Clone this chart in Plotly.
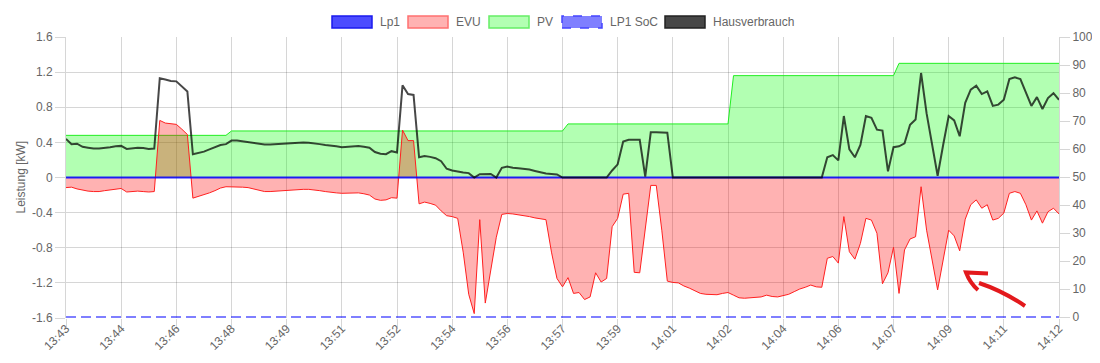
import plotly.graph_objects as go

# ---------------- data ----------------
time_labels = ["13:43", "13:44", "13:46", "13:48", "13:49", "13:51", "13:52", "13:54",
               "13:56", "13:57", "13:59", "14:01", "14:02", "14:04", "14:06", "14:07",
               "14:09", "14:11", "14:12"]

hausverbrauch = [
    0.44, 0.38, 0.385, 0.35, 0.34, 0.33, 0.33, 0.335, 0.345, 0.355,
    0.36, 0.325, 0.33, 0.34, 0.335, 0.325, 0.33, 1.13, 1.115, 1.10,
    1.095, 1.04, 0.98, 0.265, 0.28, 0.295, 0.32, 0.345, 0.37, 0.38,
    0.42, 0.42, 0.41, 0.40, 0.39, 0.38, 0.375, 0.375, 0.38, 0.385,
    0.39, 0.395, 0.395, 0.40, 0.395, 0.39, 0.38, 0.37, 0.365, 0.355,
    0.345, 0.35, 0.355, 0.36, 0.35, 0.34, 0.29, 0.27, 0.265, 0.30,
    0.285, 1.05, 0.95, 0.94, 0.23, 0.245, 0.235, 0.22, 0.185, 0.10,
    0.08, 0.065, 0.058, 0.05, 0.0, 0.038, 0.042, 0.04, 0.0, 0.11,
    0.125, 0.11, 0.105, 0.10, 0.09, 0.075, 0.06, 0.045, 0.04, 0.035,
    0.0, 0.0, 0.0, 0.0, 0.0, 0.0, 0.0, 0.0, 0.0, 0.08,
    0.15, 0.41, 0.43, 0.43, 0.43, 0.01, 0.515, 0.515, 0.515, 0.51,
    0.0, 0.0, 0.0, 0.0, 0.0, 0.0, 0.0, 0.0, 0.0, 0.0,
    0.0, 0.0, 0.0, 0.0, 0.0, 0.0, 0.0, 0.0, 0.0, 0.0,
    0.0, 0.0, 0.0, 0.0, 0.0, 0.0, 0.0, 0.0, 0.23, 0.255,
    0.195, 0.70, 0.32, 0.23, 0.37, 0.70, 0.68, 0.545, 0.535, 0.07,
    0.345, 0.355, 0.39, 0.60, 0.66, 1.19, 0.73, 0.39, 0.02, 0.37,
    0.70, 0.65, 0.47, 0.85, 1.0, 1.045, 0.95, 0.98, 0.815, 0.83,
    0.885, 1.12, 1.14, 1.12, 0.96, 0.815, 0.915, 0.78, 0.905, 0.96,
    0.885,
]

pv = [
    0.48, 0.48, 0.48, 0.48, 0.48, 0.48, 0.48, 0.48, 0.48, 0.48,
    0.48, 0.48, 0.48, 0.48, 0.48, 0.48, 0.48, 0.48, 0.48, 0.48,
    0.48, 0.48, 0.48, 0.48, 0.48, 0.48, 0.48, 0.48, 0.48, 0.48,
    0.53, 0.53, 0.53, 0.53, 0.53, 0.53, 0.53, 0.53, 0.53, 0.53,
    0.53, 0.53, 0.53, 0.53, 0.53, 0.53, 0.53, 0.53, 0.53, 0.53,
    0.53, 0.53, 0.53, 0.53, 0.53, 0.53, 0.53, 0.53, 0.53, 0.53,
    0.53, 0.53, 0.53, 0.53, 0.53, 0.53, 0.53, 0.53, 0.53, 0.53,
    0.53, 0.53, 0.53, 0.53, 0.53, 0.53, 0.53, 0.53, 0.53, 0.53,
    0.53, 0.53, 0.53, 0.53, 0.53, 0.53, 0.53, 0.53, 0.53, 0.53,
    0.53, 0.61, 0.61, 0.61, 0.61, 0.61, 0.61, 0.61, 0.61, 0.61,
    0.61, 0.61, 0.61, 0.61, 0.61, 0.61, 0.61, 0.61, 0.61, 0.61,
    0.61, 0.61, 0.61, 0.61, 0.61, 0.61, 0.61, 0.61, 0.61, 0.61,
    0.61, 1.16, 1.16, 1.16, 1.16, 1.16, 1.16, 1.16, 1.16, 1.16,
    1.16, 1.16, 1.16, 1.16, 1.16, 1.16, 1.16, 1.16, 1.16, 1.16,
    1.16, 1.16, 1.16, 1.16, 1.16, 1.16, 1.16, 1.16, 1.16, 1.16,
    1.16, 1.30, 1.30, 1.30, 1.30, 1.30, 1.30, 1.30, 1.30, 1.30,
    1.30, 1.30, 1.30, 1.30, 1.30, 1.30, 1.30, 1.30, 1.30, 1.30,
    1.30, 1.30, 1.30, 1.30, 1.30, 1.30, 1.30, 1.30, 1.30, 1.30,
    1.30,
]

evu = [
    -0.115, -0.11, -0.13, -0.145, -0.155, -0.16, -0.16, -0.15, -0.14, -0.13,
    -0.125, -0.165, -0.16, -0.155, -0.16, -0.165, -0.16, 0.65, 0.62, 0.61,
    0.605, 0.55, 0.49, -0.235, -0.215, -0.20, -0.175, -0.15, -0.12, -0.105,
    -0.105, -0.105, -0.11, -0.115, -0.13, -0.15, -0.16, -0.16, -0.155, -0.15,
    -0.145, -0.14, -0.14, -0.135, -0.135, -0.14, -0.15, -0.16, -0.17, -0.175,
    -0.18, -0.18, -0.175, -0.175, -0.185, -0.20, -0.245, -0.26, -0.255, -0.23,
    -0.235, 0.54, 0.42, 0.42, -0.30, -0.28, -0.295, -0.315, -0.38, -0.435,
    -0.445, -0.465, -0.85, -1.33, -1.55, -0.48, -1.43, -1.05, -0.68, -0.42,
    -0.41, -0.415, -0.425, -0.43, -0.445, -0.46, -0.47, -0.48, -0.85, -1.15,
    -1.245, -1.14, -1.32, -1.31, -1.39, -1.36, -1.085, -1.19, -1.15, -0.56,
    -0.465, -0.19, -0.18, -1.08, -1.085, -0.60, -0.09, -0.09, -0.60, -1.18,
    -1.195, -1.20, -1.235, -1.26, -1.29, -1.32, -1.33, -1.33, -1.335, -1.32,
    -1.31, -1.34, -1.37, -1.375, -1.37, -1.37, -1.36, -1.34, -1.355, -1.36,
    -1.345, -1.33, -1.30, -1.27, -1.25, -1.225, -1.245, -1.25, -0.92, -0.90,
    -0.975, -0.445, -0.845, -0.93, -0.75, -0.465, -0.485, -0.635, -1.21, -1.085,
    -0.795, -1.32, -0.825, -0.70, -0.675, -0.105, -0.60, -0.94, -1.28, -0.94,
    -0.60, -0.665, -0.835, -0.475, -0.31, -0.255, -0.35, -0.31, -0.485, -0.465,
    -0.405, -0.18, -0.16, -0.18, -0.31, -0.485, -0.38, -0.52, -0.39, -0.35,
    -0.415,
]

lp1 = [0.0] * len(evu)
lp1_soc = [0.0] * len(evu)

left_ticks = [-1.6, -1.2, -0.8, -0.4, 0, 0.4, 0.8, 1.2, 1.6]
left_ticktext = ["-1.6", "-1.2", "-0.8", "-0.4", "0", "0.4", "0.8", "1.2", "1.6"]
right_ticks = [0, 10, 20, 30, 40, 50, 60, 70, 80, 90, 100]

# ---------------- figure ----------------
idx = list(range(len(evu)))
label_step = 10
tick_idx = [i * label_step for i in range(len(time_labels))]

FONT = "Liberation Sans, Arial, Helvetica, sans-serif"
GRID = "rgba(0,0,0,0.16)"
TXT = "#666666"

fig = go.Figure()
fig.add_trace(go.Scatter(x=idx, y=pv, name="PV", mode="lines", fill="tozeroy",
                         fillcolor="rgba(0,255,0,0.3)", line=dict(color="#22ee22", width=1)))
fig.add_trace(go.Scatter(x=idx, y=evu, name="EVU", mode="lines", fill="tozeroy",
                         fillcolor="rgba(255,0,0,0.3)", line=dict(color="#ff2020", width=1)))
fig.add_trace(go.Scatter(x=idx, y=lp1, name="Lp1", mode="lines",
                         line=dict(color="rgba(0,0,255,0.85)", width=2)))
fig.add_trace(go.Scatter(x=idx, y=hausverbrauch, name="Hausverbrauch", mode="lines",
                         line=dict(color="rgba(0,0,0,0.72)", width=2)))
fig.add_trace(go.Scatter(x=idx, y=lp1_soc, name="LP1 SoC", mode="lines", yaxis="y2",
                         line=dict(color="rgba(0,0,255,0.5)", width=2, dash="10px,5px")))

# page has an 8px body margin: figure is drawn from (8, 8) of the window
OFF = 8
WIN_W, WIN_H = 1100, 363
PLOT_L, PLOT_R, PLOT_T, PLOT_B = 66, 1059, 37, 318   # plot area in window pixels
W, H = WIN_W - OFF, WIN_H - OFF
L, T = PLOT_L - OFF, PLOT_T - OFF
R, B = WIN_W - PLOT_R, WIN_H - PLOT_B
pw, ph = PLOT_R - PLOT_L, PLOT_B - PLOT_T


def px(x):
    return (x - PLOT_L) / pw


def py(y):
    return (PLOT_B - y) / ph


shapes = []
annotations = []

# legend (Chart.js style boxes)
legend_items = [
    ("Lp1", 332, "rgba(0,0,255,0.7)", "#1a1aee", "solid"),
    ("EVU", 408, "rgba(255,0,0,0.3)", "#ff7070", "solid"),
    ("PV", 489, "rgba(0,255,0,0.3)", "#66ee66", "solid"),
    ("LP1 SoC", 562, "rgba(0,0,255,0.5)", "#4444ff", "dash"),
    ("Hausverbrauch", 665, "rgba(0,0,0,0.72)", "#222222", "solid"),
]
for name, bx, fc, lc, dash in legend_items:
    shapes.append(dict(type="rect", xref="paper", yref="paper",
                       x0=px(bx), x1=px(bx + 40), y0=py(28), y1=py(16),
                       fillcolor=fc, line=dict(color=lc, width=1.5, dash=dash)))
    annotations.append(dict(xref="paper", yref="paper", x=px(bx + 46), y=py(22),
                            xanchor="left", yanchor="middle", showarrow=False,
                            text=name, font=dict(family=FONT, size=12, color=TXT)))

# y-axis title
annotations.append(dict(xref="paper", yref="paper", x=px(20), y=py(177.5),
                        xanchor="center", yanchor="middle", showarrow=False, textangle=-90,
                        text="Leistung [kW]", font=dict(family=FONT, size=12, color=TXT)))


# hand-drawn red arrow
def P(x, y):
    return f"{px(x):.5f},{py(y):.5f}"


shapes.append(dict(type="path", xref="paper", yref="paper",
                   path=f"M{P(1025,306)} Q{P(1003,291)} {P(979,283)}",
                   line=dict(color="#e3191c", width=4)))
shapes.append(dict(type="path", xref="paper", yref="paper",
                   path=f"M{P(988,273.5)} L{P(966,272.5)} Q{P(970,283)} {P(978,290)}",
                   line=dict(color="#e3191c", width=4)))

fig.update_layout(
    width=W, height=H,
    margin=dict(l=L, r=R, t=T, b=B, autoexpand=False),
    paper_bgcolor="white", plot_bgcolor="white",
    showlegend=False,
    font=dict(family=FONT, size=12, color=TXT),
    shapes=shapes, annotations=annotations,
    xaxis=dict(range=[0, len(evu) - 1], tickmode="array", tickvals=tick_idx, ticktext=time_labels,
               tickangle=-45, showgrid=True, gridcolor=GRID, gridwidth=1,
               ticks="outside", ticklen=10, tickcolor=GRID, zeroline=False,
               showline=False, ticklabelstandoff=-12,
               tickfont=dict(family=FONT, size=12, color=TXT)),
    yaxis=dict(range=[-1.6, 1.6], tickmode="array", tickvals=left_ticks, ticktext=left_ticktext,
               showgrid=True, gridcolor=GRID, gridwidth=1, zeroline=False,
               ticks="outside", ticklen=10, tickcolor=GRID,
               showline=True, linecolor=GRID,
               tickfont=dict(family=FONT, size=12, color=TXT)),
    yaxis2=dict(range=[-0.35, 100], tickmode="array", tickvals=right_ticks, overlaying="y", side="right",
                showgrid=False, zeroline=False, ticks="outside", ticklen=10, tickcolor=GRID,
                showline=True, linecolor=GRID,
                tickfont=dict(family=FONT, size=12, color=TXT)),
)

fig.write_html("out.html")
